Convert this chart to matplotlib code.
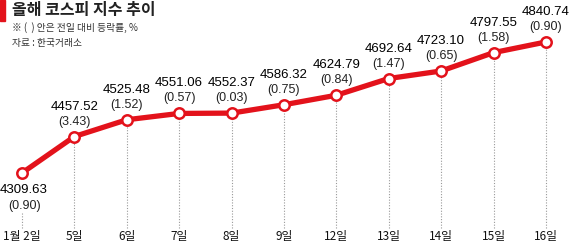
import matplotlib
matplotlib.use("Agg")
import matplotlib.pyplot as plt
from matplotlib.patches import Rectangle

plt.rcParams['font.family'] = ['Noto Sans CJK KR', 'DejaVu Sans']

dates = ["1월 2일", "5일", "6일", "7일", "8일", "9일", "12일", "13일", "14일", "15일", "16일"]
kospi = [4309.63, 4457.52, 4525.48, 4551.06, 4552.37, 4586.32, 4624.79, 4692.64, 4723.10, 4797.55, 4840.74]
change = ["0.90", "3.43", "1.52", "0.57", "0.03", "0.75", "0.84", "1.47", "0.65", "1.58", "0.90"]

red = "#e3121b"
num_font = ['Liberation Sans Narrow', 'Liberation Sans', 'DejaVu Sans']

fig = plt.figure(figsize=(5.7, 2.44), dpi=100)
ax = fig.add_axes([0, 0, 1, 1])
ax.set_xlim(-0.42, 10.46)
ax.set_ylim(4021.8, 5010.9)
ax.axis("off")

x = list(range(len(dates)))
px = (5010.9 - 4021.8) / 244  # value units per pixel

# dotted guides
for i, v in enumerate(kospi):
    top = v - 6 * px if i > 0 else v - 40 * px
    ax.plot([i, i], [4086, top], color="#999999", lw=0.8, ls=(0, (1, 1.5)), zorder=1)

ax.plot(x, kospi, color=red, lw=3.8, zorder=2, solid_capstyle="round")
ax.plot(x, kospi, ls="none", marker="o", ms=7.5, mfc="white", mec=red, mew=1.8, zorder=3)

for i, v in enumerate(kospi):
    if i == 0:
        lx = i + 0.04
        ax.text(lx, v - 17 * px, f"{v:.2f}", ha="center", va="center", fontsize=9.5, family=num_font, color="#000000")
        ax.text(lx, v - 33 * px, f"({change[i]})", ha="center", va="center", fontsize=9, family=num_font, color="#222222")
    else:
        ax.text(i, v + 30 * px, f"{v:.2f}", ha="center", va="center", fontsize=9.5, family=num_font, color="#000000")
        ax.text(i, v + 15 * px, f"({change[i]})", ha="center", va="center", fontsize=9, family=num_font, color="#222222")
    ax.text(i, 4052, dates[i], ha="center", va="center", fontsize=8.5, color="#111111")

# title block
fig.patches.append(Rectangle((0, 1 - 21 / 244), 5 / 570, 21 / 244, transform=fig.transFigure,
                             color=red, zorder=5))
fig.text(12 / 570, 1 - 10 / 244, "올해 코스피 지수 추이", fontsize=11.5, fontweight="bold",
         ha="left", va="center", color="#222222")
fig.text(12 / 570, 1 - 28 / 244, "※ (  ) 안은 전일 대비 등락률, %", fontsize=7, ha="left", va="center",
         color="#333333")
fig.text(12 / 570, 1 - 43 / 244, "자료 : 한국거래소", fontsize=7, ha="left", va="center", color="#333333")

fig.savefig("out.png", dpi=100)
